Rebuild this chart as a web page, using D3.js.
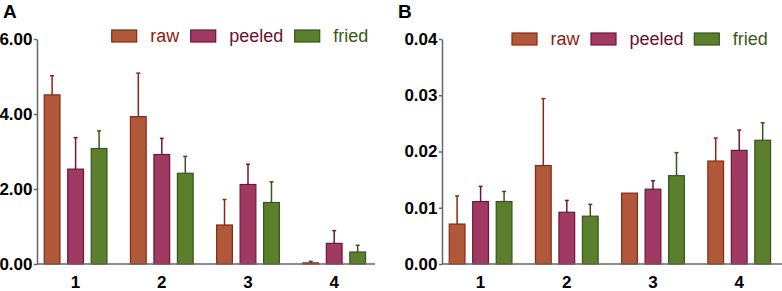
<!DOCTYPE html>
<html>
<head>
<meta charset="utf-8">
<script src="https://cdn.jsdelivr.net/npm/d3@7"></script>
<style>
  body { margin: 0; background: #fff; }
  svg { display: block; font-family: "Liberation Sans", Arial, sans-serif; }
</style>
</head>
<body>
<div id="chart-area"></div>
<script>
// data
const categories = ["1", "2", "3", "4"]
const seriesNames = ["raw", "peeled", "fried"]

// panel A
const rawA = [4.51, 3.93, 1.04, 0.03]
const rawErrA = [5.02, 5.09, 1.72, 0.07]
const peeledA = [2.53, 2.92, 2.12, 0.55]
const peeledErrA = [3.37, 3.35, 2.66, 0.89]
const friedA = [3.08, 2.42, 1.64, 0.32]
const friedErrA = [3.55, 2.87, 2.19, 0.50]
const ticksA = [0, 2, 4, 6]

// panel B
const rawB = [0.0071, 0.0175, 0.0126, 0.0183]
const rawErrB = [0.0121, 0.0294, 0.0126, 0.0224]
const peeledB = [0.0111, 0.0092, 0.0133, 0.0202]
const peeledErrB = [0.0138, 0.0113, 0.0148, 0.0238]
const friedB = [0.0111, 0.0085, 0.0157, 0.0220]
const friedErrB = [0.0129, 0.0106, 0.0198, 0.0251]
const ticksB = [0, 0.01, 0.02, 0.03, 0.04]

const FILL = { raw: "#b0583a", peeled: "#a13a63", fried: "#5c7f2d" }
const STROKE = { raw: "#8a2812", peeled: "#6e1538", fried: "#33561a" }
const TEXT = { raw: "#8a2010", peeled: "#6a1030", fried: "#3a5a16" }

const SVG_WIDTH = 782
const SVG_HEIGHT = 291
const Y_TOP = 39
const Y_BOTTOM = 264

const svg = d3.select("#chart-area").append("svg")
  .attr("width", SVG_WIDTH)
  .attr("height", SVG_HEIGHT)

function drawPanel(p) {
  const g = svg.append("g")

  const x = d3.scaleBand()
    .domain(categories)
    .range([p.left - 4.5, p.left - 4.5 + 4 * 86.2])

  const xs = d3.scaleBand()
    .domain(seriesNames)
    .range([0, x.bandwidth()])
    .paddingInner(0.33)
    .paddingOuter(0.5)

  const y = d3.scaleLinear()
    .domain([0, p.max])
    .range([Y_BOTTOM, Y_TOP])

  // panel letter
  g.append("text")
    .attr("x", p.letterX)
    .attr("y", 18)
    .attr("font-size", "19px")
    .attr("font-weight", "bold")
    .text(p.letter)

  // y axis
  const yAxis = g.append("g")
    .attr("transform", `translate(${p.left}, 0)`)
    .call(d3.axisLeft(y).tickValues(p.ticks).tickFormat(d3.format(".2f"))
      .tickSize(3).tickSizeOuter(0).tickPadding(1.5))
  yAxis.select(".domain").attr("stroke", "#666").attr("stroke-width", 1.5)
  yAxis.selectAll(".tick line").attr("stroke", "#666").attr("stroke-width", 1.5)
  yAxis.selectAll(".tick text")
    .attr("font-size", "17px")
    .attr("font-weight", "bold")
    .attr("font-family", "Liberation Sans, Arial, sans-serif")
    .attr("fill", "#000")

  // x axis
  const xAxis = g.append("g")
    .attr("transform", `translate(0, ${Y_BOTTOM})`)
    .call(d3.axisBottom(x).tickSize(0).tickPadding(12))
  xAxis.select(".domain").remove()
  xAxis.selectAll(".tick text")
    .attr("font-size", "17px")
    .attr("font-weight", "bold")
    .attr("font-family", "Liberation Sans, Arial, sans-serif")
    .attr("fill", "#000")

  // bars + error bars
  const rows = []
  categories.forEach((c, i) => {
    seriesNames.forEach(s => {
      rows.push({ cat: c, series: s, value: p.values[s][i], err: p.errs[s][i] })
    })
  })

  const bars = g.append("g").selectAll("g").data(rows).enter().append("g")

  bars.filter(d => d.err > d.value).append("line")
    .attr("x1", d => x(d.cat) + xs(d.series) + xs.bandwidth() / 2)
    .attr("x2", d => x(d.cat) + xs(d.series) + xs.bandwidth() / 2)
    .attr("y1", d => y(d.value))
    .attr("y2", d => y(d.err))
    .attr("stroke", d => STROKE[d.series])
    .attr("stroke-width", 1.5)

  bars.filter(d => d.err > d.value).append("line")
    .attr("x1", d => x(d.cat) + xs(d.series) + xs.bandwidth() / 2 - 2)
    .attr("x2", d => x(d.cat) + xs(d.series) + xs.bandwidth() / 2 + 2)
    .attr("y1", d => y(d.err))
    .attr("y2", d => y(d.err))
    .attr("stroke", d => STROKE[d.series])
    .attr("stroke-width", 1.5)

  bars.append("rect")
    .attr("x", d => x(d.cat) + xs(d.series))
    .attr("y", d => y(d.value))
    .attr("width", xs.bandwidth())
    .attr("height", d => Y_BOTTOM - y(d.value))
    .attr("fill", d => FILL[d.series])
    .attr("stroke", d => STROKE[d.series])
    .attr("stroke-width", 1.2)

  // baseline drawn over bar bottoms
  g.append("line")
    .attr("x1", p.left)
    .attr("x2", p.left + p.axisLen)
    .attr("y1", Y_BOTTOM)
    .attr("y2", Y_BOTTOM)
    .attr("stroke", "#666")
    .attr("stroke-width", 1.5)

  // legend
  const legend = g.append("g")
    .selectAll("g").data(seriesNames).enter().append("g")
    .attr("transform", (d, i) => `translate(${p.left + p.legendX[i]}, ${p.legendY})`)
  legend.append("rect")
    .attr("x", 0)
    .attr("y", -6)
    .attr("width", 25)
    .attr("height", 12)
    .attr("fill", d => FILL[d])
    .attr("stroke", d => STROKE[d])
    .attr("stroke-width", 1.2)
  legend.append("text")
    .attr("x", 38.5)
    .attr("y", 0)
    .attr("dy", "0.35em")
    .attr("font-size", "18px")
    .attr("fill", d => TEXT[d])
    .text(d => d)
}

drawPanel({
  letter: "A", letterX: 3, left: 37, axisLen: 338, max: 6, ticks: ticksA,
  values: { raw: rawA, peeled: peeledA, fried: friedA },
  errs: { raw: rawErrA, peeled: peeledErrA, fried: friedErrA },
  legendX: [74.7, 153.7, 257.7], legendY: 36
})

drawPanel({
  letter: "B", letterX: 398, left: 442, axisLen: 340, max: 0.04, ticks: ticksB,
  values: { raw: rawB, peeled: peeledB, fried: friedB },
  errs: { raw: rawErrB, peeled: peeledErrB, fried: friedErrB },
  legendX: [70, 149, 252.3], legendY: 39
})
</script>
</body>
</html>
